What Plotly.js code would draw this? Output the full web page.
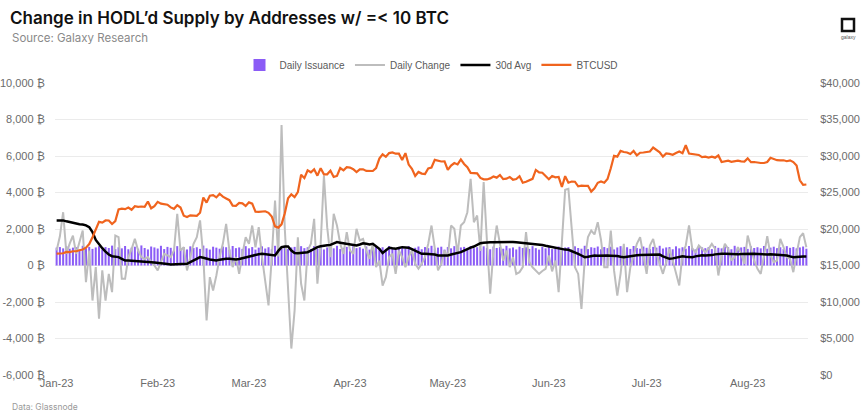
<!DOCTYPE html>
<html>
<head>
<meta charset="utf-8">
<script src="https://cdn.plot.ly/plotly-3.0.1.min.js"></script>
<style>
  html, body { margin: 0; padding: 0; background: #ffffff; }
  #chart { width: 865px; height: 418px; }
</style>
</head>
<body>
<div id="chart"></div>
<script>
// ---------------- DATA (daily, 2023-01-01 .. 2023-08-19) ----------------
const startDate = '2023-01-01';

const dailyIssuance = [
  980, 1010, 940, 1050, 920, 980, 1000, 870, 1080, 950,
  1020, 910, 990, 1060, 880, 1010, 960, 1090, 900, 1000,
  940, 1070, 890, 980, 1030, 920, 1100, 960, 880, 1040,
  990, 930, 1080, 900, 1020, 970, 860, 1060, 940, 1010,
  880, 1050, 960, 1000, 910, 1090, 940, 870, 1030, 980,
  920, 1040, 1000, 880, 1070, 950, 990, 910, 1060, 940,
  1010, 870, 980, 1050, 930, 1000, 890, 1080, 960, 920,
  1040, 900, 990, 1020, 860, 1060, 950, 1000, 910, 1070,
  930, 1010, 880, 990, 1050, 940, 1080, 900, 970, 1020,
  890, 1060, 950, 1000, 920, 1040, 870, 990, 1030, 940,
  1000, 910, 1070, 960, 880, 1020, 990, 930, 1060, 900,
  970, 1040, 890, 1010, 950, 1080, 920, 980, 1030, 870,
  1010, 940, 1060, 900, 990, 1020, 880, 1070, 950, 1000,
  930, 1050, 970, 890, 1040, 960, 1010, 920, 1080, 940,
  990, 880, 1030, 960, 1000, 910, 1060, 950, 870, 1020,
  940, 1070, 900, 980, 1040, 930, 990, 1010, 880, 1050,
  960, 920, 1080, 900, 1000, 970, 1040, 890, 1010, 950,
  1030, 880, 990, 1060, 940, 1000, 910, 1070, 960, 920,
  1040, 970, 900, 1020, 980, 1080, 930, 990, 1010, 890,
  1050, 940, 1000, 920, 1070, 960, 880, 1030, 990, 950,
  1010, 900, 1060, 970, 940, 1040, 1000, 890, 1080, 930,
  990, 1020, 910, 1050, 960, 1000, 940, 1070, 920, 980,
  1030, 950, 1000, 900, 1060, 970, 1010, 940, 990, 1040, 920
];

const dailyChange = [
  820, 1600, 2920, 640, 1200, 1640, 640, 1280, 1920, -910,
  820, -1920, -90, -2920, -270, -1920, -460, -1460, 1640, 1550,
  -730, -730, 460, 900, 1460, 820, 460, 365, 460, 200,
  0, -270, 200, 640, 550, 460, 820, 2830, 820, 1000,
  -270, 460, 1190, 1550, 2470, 460, -3010, -640, -1370, -550,
  460, 1200, 2280, 820, -90, 460, -460, 640, 1550, 1190,
  2190, 1000, 2100, 460, -800, -2190, 460, 3560, 500, 7700,
  2000, -1000, -4550, -2470, 1550, -1000, -1920, 820, 1190, 2560,
  -1000, 1190, 4930, 2100, 460, 2830, 2190, 1190, 640, 1830,
  820, 640, 2010, 1370, 1460, 820, 365, 1190, -90, 270,
  -1100, -640, 460, 640, -460, 820, 460, -90, 460, 820,
  90, -180, 90, 460, 1190, 2190, 820, -270, 90, 820,
  460, 2190, 2010, 640, 2190, 2370, 2920, 4750, 2370, 2740,
  800, 4570, 1370, -1550, 820, 2190, 1190, 270, 820, -90,
  460, -460, -365, -90, 1830, 200, -100, -300, -457, -300,
  -180, 550, -320, 274, -1461, 1279, 4146, 4200, 1918, -91,
  -460, -2375, 300, 1553, 1918, 1700, 2375, 1400, -90, -90,
  1918, -270, -1644, -457, 1187, -1461, -91, 548, 1187, 1553,
  548, -457, 1096, 1461, 640, 91, -457, 183, 914, 274,
  -365, -1096, 640, 1096, 2192, 914, 731, 1096, 914, 731,
  914, 1187, 914, -548, 548, 1187, 914, 274, 457, 1005,
  640, 91, 1644, 914, 274, -183, -457, 548, 1608, 548,
  183, 274, 1461, 1005, 457, 365, -365, 640, 1553, 1773, 1005
];

const avg30d = [
  2470, 2470, 2470, 2420, 2380, 2330, 2280, 2260, 2250, 2200, 2100,
  1830, 1400, 1150, 950, 760, 600, 510, 480, 460, 360,
  270, 280, 270, 270, 260, 240, 220, 200, 180, 160,
  150, 130, 110, 80, 60, 70, 90, 90, 80, 90,
  180, 270, 380, 460, 420, 365, 330, 300, 270, 320,
  365, 370, 365, 340, 330, 360, 410, 460, 500, 540,
  580, 620, 640, 620, 600, 570, 550, 800, 1005, 1040,
  1040, 820, 680, 670, 680, 700, 730, 820, 914, 1005,
  1050, 1096, 1110, 1130, 1200, 1280, 1250, 1220, 1200, 1187,
  1130, 1096, 1150, 1220, 1190, 1150, 1187, 1050, 914, 680,
  820, 970, 940, 914, 960, 1005, 990, 970, 900, 822,
  720, 640, 640, 640, 640, 600, 550, 550, 550, 550,
  600, 640, 680, 730, 820, 914, 980, 1040, 1130, 1220,
  1250, 1280, 1280, 1270, 1280, 1290, 1280, 1270, 1280, 1290,
  1280, 1260, 1240, 1220, 1200, 1190, 1180, 1170, 1120, 1080,
  1040, 1000, 960, 914, 890, 870, 860, 800, 731, 640,
  548, 457, 480, 520, 548, 540, 550, 560, 548, 540,
  548, 520, 480, 457, 480, 520, 548, 560, 570, 580,
  590, 600, 600, 610, 600, 500, 430, 365, 390, 420,
  460, 500, 480, 460, 457, 500, 548, 560, 550, 548,
  570, 610, 640, 640, 650, 640, 620, 600, 610, 630,
  640, 650, 640, 640, 630, 610, 600, 600, 610, 600,
  590, 580, 560, 548, 500, 457, 470, 500, 500, 500
];

const btcusd = [
  // Jan
  16625, 16688, 16680, 16863, 16836, 16951, 16955, 17091, 17196, 17446,
  17934, 18869, 19909, 20976, 20880, 21170, 21161, 20688, 21086, 22676,
  22777, 22721, 22934, 22636, 23117, 23032, 23078, 23031, 23774, 22840, 23139,
  // Feb
  23723, 23471, 23449, 23331, 22955, 22760, 23264, 22939, 21819, 21651,
  21870, 21788, 21808, 22220, 24307, 23623, 24565, 24641, 24327, 24829,
  24436, 24188, 23947, 23198, 23175, 23561, 23522, 23147,
  // Mar
  23646, 23475, 22362, 22353, 22435, 22429, 22219, 21718, 20363, 20187,
  20632, 22163, 24197, 24746, 24375, 25052, 27423, 26965, 28038, 27767,
  28175, 27307, 28333, 27493, 27494, 27994, 27139, 27268, 28348, 28033, 28478,
  // Apr
  28411, 28199, 27790, 28169, 28175, 27963, 27935, 27948, 28333, 29653,
  30235, 29892, 30399, 30485, 30318, 30315, 29445, 30397, 28823, 28245,
  27276, 27817, 27591, 27525, 28307, 28422, 29473, 29340, 29248, 29268,
  // May
  28091, 28680, 29031, 28848, 29534, 28904, 28454, 27694, 27658, 27621,
  27000, 26804, 26785, 26931, 27192, 27036, 27399, 26832, 26890, 27129,
  26754, 26851, 27225, 26334, 26477, 26719, 26868, 28085, 27746, 27702, 27219,
  // Jun
  26819, 27249, 27075, 27119, 25760, 27238, 26346, 26498, 26477, 25841,
  25940, 25902, 25918, 25124, 25577, 26327, 26510, 26340, 26851, 28327,
  30027, 29912, 30695, 30548, 30480, 30271, 30688, 30086, 30445, 30477,
  // Jul
  30590, 30620, 31156, 30777, 30514, 29909, 30346, 30292, 30171, 30414,
  30620, 30391, 31476, 30334, 30295, 30249, 30145, 29856, 29913, 29792,
  29908, 29771, 30084, 29176, 29228, 29354, 29210, 29319, 29357, 29275, 29230,
  // Aug
  29675, 29152, 29178, 29075, 29043, 29041, 29180, 29766, 29561, 29429,
  29398, 29415, 29283, 29408, 29170, 28701, 26664, 26049, 26096
];

const leftTickVals = [-6000, -4000, -2000, 0, 2000, 4000, 6000, 8000, 10000];
const leftTickText = ['-6,000 ₿', '-4,000 ₿', '-2,000 ₿', '0 ₿', '2,000 ₿', '4,000 ₿', '6,000 ₿', '8,000 ₿', '10,000 ₿'];
const rightTickVals = [0, 5000, 10000, 15000, 20000, 25000, 30000, 35000, 40000];
const rightTickText = ['$0', '$5,000', '$10,000', '$15,000', '$20,000', '$25,000', '$30,000', '$35,000', '$40,000'];

// ---------------- BUILD ----------------
const n = dailyChange.length;
const dates = [];
for (let i = 0; i < n; i++) {
  const d = new Date(Date.UTC(2023, 0, 1 + i));
  dates.push(d.toISOString().slice(0, 10));
}

const axisFont = { family: 'Liberation Sans, Arial, sans-serif', size: 11, color: '#6b6b6b' };

const traces = [
  {
    type: 'bar', name: 'Daily Issuance', x: dates, y: dailyIssuance,
    marker: { color: '#8b5cf6', line: { width: 0 } }, yaxis: 'y'
  },
  {
    type: 'scatter', mode: 'lines', name: 'Daily Change', x: dates, y: dailyChange,
    line: { color: '#bdbdbd', width: 2 }, yaxis: 'y'
  },
  {
    type: 'scatter', mode: 'lines', name: '30d Avg', x: dates, y: avg30d,
    line: { color: '#000000', width: 2.5 }, yaxis: 'y'
  },
  {
    type: 'scatter', mode: 'lines', name: 'BTCUSD', x: dates, y: btcusd,
    line: { color: '#f0641e', width: 2.2 }, yaxis: 'y2'
  }
];

const layout = {
  width: 865, height: 418,
  margin: { l: 55, r: 57, t: 83, b: 43 },
  paper_bgcolor: '#ffffff', plot_bgcolor: '#ffffff',
  bargap: 0.38,
  showlegend: true,
  legend: {
    orientation: 'h', x: 0.5, xanchor: 'center', y: 1.062, yanchor: 'middle',
    font: { family: 'Liberation Sans, Arial, sans-serif', size: 10, color: '#5a5a5a' },
    itemwidth: 30, traceorder: 'normal', itemclick: false
  },
  title: {
    text: 'Change in HODL\u2019d Supply by Addresses w/ =< 10 BTC',
    x: 10 / 865, xanchor: 'left', xref: 'container',
    y: 1 - 18 / 418, yanchor: 'middle', yref: 'container',
    font: { family: 'Inter, Roboto, sans-serif', size: 17, color: '#111111', weight: 600 }
  },
  xaxis: {
    type: 'date',
    range: ['2022-12-31 12:00', '2023-08-19 12:00'],
    tick0: '2023-01-01', dtick: 'M1', tickformat: '%b-%y',
    showgrid: false, zeroline: false, showline: false, ticks: '',
    tickfont: axisFont, fixedrange: true
  },
  yaxis: {
    range: [-6000, 10000],
    tickmode: 'array', tickvals: leftTickVals, ticktext: leftTickText,
    showgrid: true, gridcolor: '#ebebeb', gridwidth: 1,
    zeroline: false, showline: false, ticks: 'outside', ticklen: 7, tickcolor: 'rgba(0,0,0,0)',
    tickfont: axisFont
  },
  yaxis2: {
    overlaying: 'y', side: 'right',
    range: [0, 40000],
    tickmode: 'array', tickvals: rightTickVals, ticktext: rightTickText,
    showgrid: false, zeroline: false, showline: false, ticks: 'outside', ticklen: 9, tickcolor: 'rgba(0,0,0,0)',
    tickfont: axisFont
  },
  annotations: [
    {
      text: 'Source: Galaxy Research', xref: 'paper', yref: 'paper',
      x: (10 - 55) / 753, xanchor: 'left', y: (375 - 38) / 292, yanchor: 'middle',
      showarrow: false, font: { family: 'Inter, Roboto, sans-serif', size: 11.5, color: '#8a8a8a' }
    },
    {
      text: 'Data: Glassnode', xref: 'paper', yref: 'paper',
      x: (10 - 55) / 753, xanchor: 'left', y: (375 - 407) / 292, yanchor: 'middle',
      showarrow: false, font: { family: 'Inter, Roboto, sans-serif', size: 8.5, color: '#9a9a9a' }
    },
    {
      text: 'galaxy', xref: 'paper', yref: 'paper',
      x: (848 - 55) / 753, xanchor: 'center', y: (375 - 37) / 292, yanchor: 'middle',
      showarrow: false, font: { family: 'Liberation Sans, Arial, sans-serif', size: 5, color: '#555555' }
    }
  ],
  shapes: [
    {
      type: 'rect', xref: 'paper', yref: 'paper',
      x0: (842 - 55) / 753, x1: (854 - 55) / 753,
      y0: (375 - 31) / 292, y1: (375 - 19) / 292,
      line: { color: '#111111', width: 2.5 }, fillcolor: 'rgba(0,0,0,0)'
    }
  ]
};

Plotly.newPlot('chart', traces, layout, { displayModeBar: false, staticPlot: true });
</script>
</body>
</html>
